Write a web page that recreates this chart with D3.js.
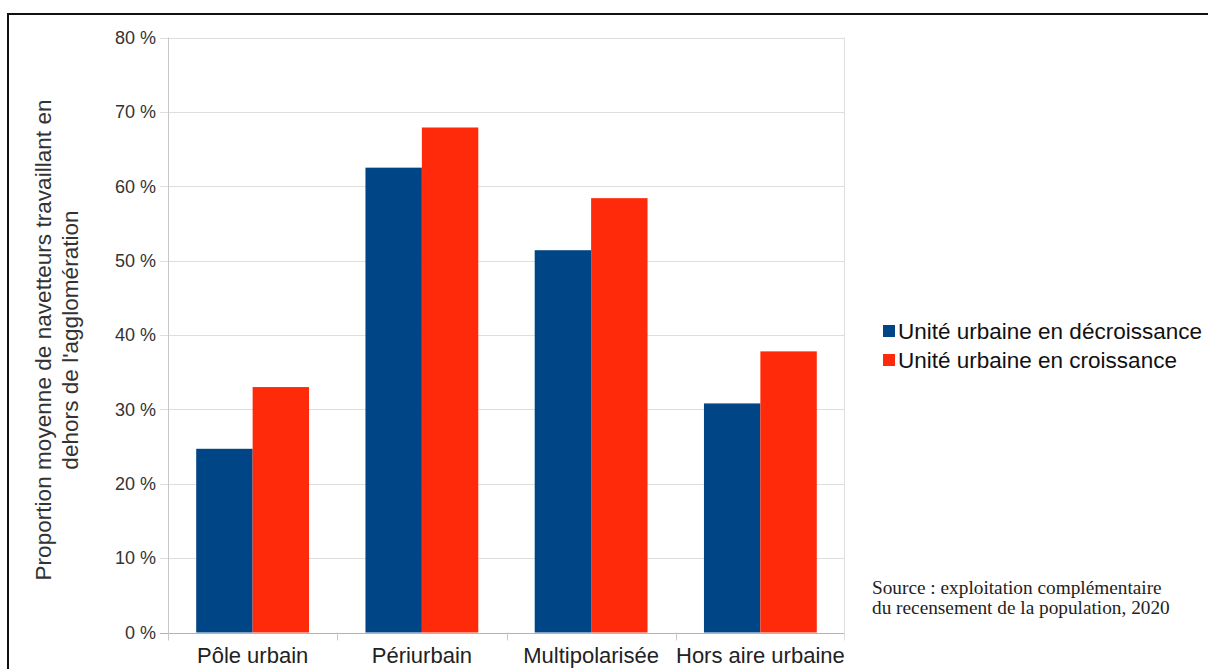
<!DOCTYPE html>
<html>
<head>
<meta charset="utf-8">
<script src="https://cdn.jsdelivr.net/npm/d3@7"></script>
<style>
  body { margin: 0; background: #fff; }
  svg { display: block; }
</style>
</head>
<body>
<svg id="chart"></svg>
<script>
var categories = ["Pôle urbain", "Périurbain", "Multipolarisée", "Hors aire urbaine"];
var seriesNames = ["Unité urbaine en décroissance", "Unité urbaine en croissance"];
var declineValues = [24.7, 62.5, 51.4, 30.8];
var growthValues = [33.0, 67.9, 58.4, 37.8];
var yTicks = [0, 10, 20, 30, 40, 50, 60, 70, 80];
var colors = ["#004586", "#ff2a0a"];

var width = 1208, height = 669;
var plot = {left: 168, right: 845, top: 37.5, bottom: 632.5};

var svg = d3.select("#chart")
    .attr("width", width)
    .attr("height", height);

svg.append("rect")
    .attr("width", width)
    .attr("height", height)
    .attr("fill", "#fff");

// frame round the picture, runs off the right and bottom
svg.append("rect")
    .attr("x", 8)
    .attr("y", 14)
    .attr("width", width)
    .attr("height", height)
    .attr("fill", "none")
    .attr("stroke", "#111")
    .attr("stroke-width", 2);

var x = d3.scaleBand()
    .domain(categories)
    .range([plot.left, plot.right]);

var xInner = d3.scaleBand()
    .domain(seriesNames)
    .range([0, x.bandwidth()])
    .paddingOuter(0.5);

var y = d3.scaleLinear()
    .domain([0, 80])
    .range([plot.bottom, plot.top]);

// grid
svg.append("g")
    .selectAll("line")
    .data(yTicks)
    .enter().append("line")
    .attr("x1", plot.left - 8)
    .attr("x2", plot.right)
    .attr("y1", function (d) { return Math.round(y(d)) + 0.5; })
    .attr("y2", function (d) { return Math.round(y(d)) + 0.5; })
    .attr("stroke", function (d) { return d == 0 ? "#b3b3b3" : "#dedede"; })
    .attr("stroke-width", 1);

svg.append("line")
    .attr("x1", plot.left + 0.5).attr("x2", plot.left + 0.5)
    .attr("y1", plot.top).attr("y2", plot.bottom + 8)
    .attr("stroke", "#c8c8c8");

svg.append("line")
    .attr("x1", plot.right - 0.5).attr("x2", plot.right - 0.5)
    .attr("y1", plot.top).attr("y2", plot.bottom + 8)
    .attr("stroke", "#dedede");

// category separators under the axis
svg.append("g")
    .selectAll("line")
    .data(categories.slice(1))
    .enter().append("line")
    .attr("x1", function (d) { return Math.round(x(d)) + 0.5; })
    .attr("x2", function (d) { return Math.round(x(d)) + 0.5; })
    .attr("y1", plot.bottom)
    .attr("y2", plot.bottom + 8)
    .attr("stroke", "#c8c8c8");

// bars
var seriesData = [declineValues, growthValues];
seriesData.forEach(function (vals, s) {
    svg.append("g")
        .selectAll("rect")
        .data(vals)
        .enter().append("rect")
        .attr("x", function (d, i) { return x(categories[i]) + xInner(seriesNames[s]); })
        .attr("y", function (d) { return y(d); })
        .attr("width", xInner.bandwidth())
        .attr("height", function (d) { return y(0) - y(d); })
        .attr("fill", colors[s]);
});

// y tick labels
svg.append("g")
    .selectAll("text")
    .data(yTicks)
    .enter().append("text")
    .attr("x", 156)
    .attr("y", function (d) { return y(d); })
    .attr("dy", "0.35em")
    .attr("text-anchor", "end")
    .style("font-family", "'Liberation Sans', Arial, sans-serif")
    .style("font-size", "18px")
    .style("fill", "#333")
    .text(function (d) { return d + "\u00a0%"; });

// x labels
svg.append("g")
    .selectAll("text")
    .data(categories)
    .enter().append("text")
    .attr("x", function (d) { return x(d) + x.bandwidth() / 2; })
    .attr("y", 663)
    .attr("text-anchor", "middle")
    .style("font-family", "'Liberation Sans', Arial, sans-serif")
    .style("font-size", "22px")
    .style("fill", "#222")
    .text(function (d) { return d; });

// y title
var yTitle = svg.append("text")
    .attr("transform", "translate(0," + 340 + ") rotate(-90)")
    .attr("text-anchor", "middle")
    .style("font-family", "'Liberation Sans', Arial, sans-serif")
    .style("font-size", "22.6px")
    .style("fill", "#333");
yTitle.append("tspan").attr("x", 0).attr("y", 51).text("Proportion moyenne de navetteurs travaillant en");
yTitle.append("tspan").attr("x", 0).attr("y", 78).text("dehors de l'agglomération");

// legend
var legend = svg.append("g")
    .selectAll("g")
    .data(seriesNames)
    .enter().append("g")
    .attr("transform", function (d, i) { return "translate(883," + (331 + i * 29) + ")"; });
legend.append("rect")
    .attr("x", 0).attr("y", -6)
    .attr("width", 12).attr("height", 12)
    .attr("fill", function (d, i) { return colors[i]; });
legend.append("text")
    .attr("x", 15)
    .attr("dy", "0.36em")
    .style("font-family", "'Liberation Sans', Arial, sans-serif")
    .style("font-size", "22.5px")
    .style("fill", "#111")
    .text(function (d) { return d; });

// source note
var source = svg.append("text")
    .style("font-family", "'Liberation Serif', 'Times New Roman', serif")
    .style("font-size", "19.3px")
    .style("fill", "#222");
source.append("tspan").attr("x", 872).attr("y", 594).text("Source : exploitation complémentaire");
source.append("tspan").attr("x", 872).attr("y", 614).text("du recensement de la population, 2020");
</script>
</body>
</html>
